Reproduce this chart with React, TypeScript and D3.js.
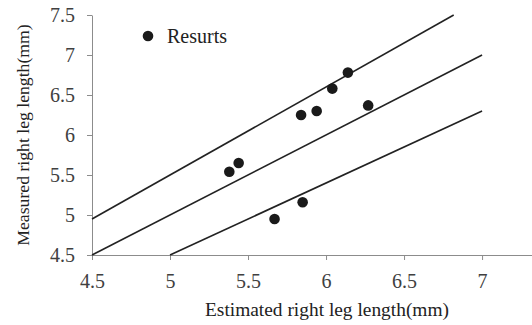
import * as d3 from "d3"
import React, { useRef, useEffect } from 'react';

// measured vs estimated leg length
const estimated = [5.38, 5.44, 5.84, 5.94, 6.04, 6.14, 6.27, 5.85, 5.67];
const measured = [5.54, 5.65, 6.25, 6.30, 6.58, 6.78, 6.37, 5.16, 4.95];
// reference lines y = k * x
const slopes = [1.1, 1.0, 0.9];
const xTicks = [4.5, 5, 5.5, 6, 6.5, 7];
const yTicks = [4.5, 5, 5.5, 6, 6.5, 7, 7.5];
const legendLabel = "Resurts";

const width = 532;
const height = 325;
const font = "Liberation Serif, Times New Roman, serif";

const App: React.FC = () => {
    const svgRef = useRef<SVGSVGElement | null>(null);

    useEffect(() => {
        const svg = d3.select(svgRef.current)
            .attr('width', width)
            .attr('height', height)
            .attr('font-family', font);
        svg.selectAll("*").remove();

        svg.append('rect')
            .attr('width', width)
            .attr('height', height)
            .attr('fill', '#FFFFFF');

        const x = d3.scaleLinear().domain([4.5, 7.32]).range([92, 532]);
        const y = d3.scaleLinear().domain([4.5, 7.5]).range([255, 15]);

        // axes
        const xAxis = svg.append("g")
            .attr("transform", `translate(0,${y(4.5)})`)
            .call(d3.axisBottom(x).tickValues(xTicks).tickSize(5).tickSizeOuter(0).tickPadding(14)
                .tickFormat(d => String(d)));
        const yAxis = svg.append("g")
            .attr("transform", `translate(${x(4.5)},0)`)
            .call(d3.axisLeft(y).tickValues(yTicks).tickSize(5).tickSizeOuter(0).tickPadding(12)
                .tickFormat(d => String(d)));

        [xAxis, yAxis].forEach(a => {
            a.attr("font-family", font).attr("font-size", 20);
            a.select(".domain").attr("stroke", "#8c8c8c");
            a.selectAll(".tick line").attr("stroke", "#8c8c8c");
            a.selectAll(".tick text")
                .attr("fill", "#404040")
                .attr("font-family", font)
                .attr("font-size", 20);
        });

        // reference lines, clipped to plot area
        const line = d3.line<[number, number]>()
            .x(d => x(d[0]))
            .y(d => y(d[1]));
        slopes.forEach(k => {
            const x0 = Math.max(4.5, 4.5 / k);
            const x1 = Math.min(7, 7.5 / k);
            svg.append("path")
                .attr("d", line([[x0, k * x0], [x1, k * x1]]))
                .attr("fill", "none")
                .attr("stroke", "#222")
                .attr("stroke-width", 1.6);
        });

        // points
        svg.selectAll("circle.pt")
            .data(estimated.map((e, i) => ({ e, m: measured[i] })))
            .enter()
            .append("circle")
            .attr("class", "pt")
            .attr("cx", d => x(d.e))
            .attr("cy", d => y(d.m))
            .attr("r", 5.3)
            .attr("fill", "#1a1a1a");

        // legend
        svg.append("circle")
            .attr("cx", 148)
            .attr("cy", 36)
            .attr("r", 5.3)
            .attr("fill", "#1a1a1a");
        svg.append("text")
            .attr("x", 167)
            .attr("y", 43)
            .attr("font-size", 20)
            .attr("fill", "#222")
            .text(legendLabel);

        // axis titles
        svg.append("text")
            .attr("x", 327)
            .attr("y", 316)
            .attr("text-anchor", "middle")
            .attr("font-size", 19.4)
            .attr("fill", "#222")
            .text("Estimated right leg length(mm)");
        svg.append("text")
            .attr("transform", `translate(29,135) rotate(-90)`)
            .attr("text-anchor", "middle")
            .attr("font-size", 17.7)
            .attr("fill", "#222")
            .text("Measured right leg length(mm)");
    }, []);

    return (
        <svg ref={svgRef} style={{ position: 'absolute', left: 0, top: 0 }}></svg>
    );
};

export default App;
